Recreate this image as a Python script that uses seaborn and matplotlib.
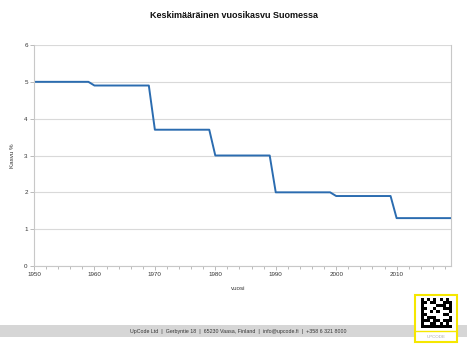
import numpy as np
import pandas as pd
import matplotlib
matplotlib.use("Agg")
import matplotlib.pyplot as plt
import seaborn as sns
from matplotlib.patches import Rectangle
from matplotlib.ticker import MultipleLocator

# Data: average annual growth in Finland, by decade (yearly steps)
years = list(range(1950, 2020))
decade_starts = [1950, 1960, 1970, 1980, 1990, 2000, 2010]
decade_growth = [5.0, 4.9, 3.7, 3.0, 2.0, 1.9, 1.3]
growth = [decade_growth[(y - 1950) // 10] for y in years]
x_ticks = [1950, 1960, 1970, 1980, 1990, 2000, 2010]
y_ticks = [0, 1, 2, 3, 4, 5, 6]

title = "Keskimääräinen vuosikasvu Suomessa"
xlabel = "vuosi"
ylabel = "Kasvu %"
footer = "UpCode Ltd  |  Gerbyntie 18  |  65230 Vaasa, Finland  |  info@upcode.fi  |  +358 6 321 8000"

df = pd.DataFrame({"vuosi": years, "kasvu": growth})

sns.set_style("white")
plt.rcParams['font.family'] = ['Liberation Sans', 'DejaVu Sans']

W, H = 467, 350
fig = plt.figure(figsize=(W / 100, H / 100), dpi=100)
ax = fig.add_axes([34 / W, 1 - 266 / H, (451 - 34) / W, (266 - 45) / H])

sns.lineplot(data=df, x="vuosi", y="kasvu", ax=ax, color="#2b6cb0", linewidth=1.4)

ax.set_xlim(1950, 2019)
ax.set_ylim(0, 6)
ax.set_xticks(x_ticks)
ax.set_xticklabels([str(t) for t in x_ticks])
ax.xaxis.set_minor_locator(MultipleLocator(2))
ax.set_yticks(y_ticks)
ax.grid(axis="y", color="#d9d9d9", linewidth=0.8)
ax.set_axisbelow(True)
for side in ["left", "bottom", "right"]:
    ax.spines[side].set_color("#c8c8c8")
    ax.spines[side].set_linewidth(0.8)
ax.spines["top"].set_visible(False)
ax.tick_params(axis="both", which="major", labelsize=4.5, labelcolor="#333333",
               color="#b0b0b0", length=3, width=0.6, direction="out", pad=1.5,
               bottom=True, left=True)
ax.tick_params(axis="x", which="minor", color="#b0b0b0", length=2, width=0.6,
               direction="out", bottom=True)
ax.set_xlabel("")
ax.set_ylabel("")

fig.text(234 / W, 1 - 16 / H, title, ha="center", va="center", fontsize=6.5,
         fontweight="bold", color="#111111")
fig.text(238 / W, 1 - 289 / H, xlabel, ha="center", va="center", fontsize=4.5, color="#333333")
fig.text(12 / W, 1 - 156 / H, ylabel, ha="center", va="center", fontsize=4.5,
         color="#333333", rotation=90)

# footer band
fig.patches.append(Rectangle((0, 1 - 337 / H), 1, 12 / H, transform=fig.transFigure,
                             facecolor="#d6d6d6", edgecolor="none", zorder=1))
fig.text(238 / W, 1 - 331 / H, footer, ha="center", va="center", fontsize=3.8,
         color="#333333", zorder=2)

# logo (decorative)
lx0, lx1, ly0, ly1 = 415, 457, 295, 342
fig.patches.append(Rectangle((lx0 / W, 1 - ly1 / H), (lx1 - lx0) / W, (ly1 - ly0) / H,
                             transform=fig.transFigure, facecolor="white",
                             edgecolor="#f5e700", linewidth=1.5, zorder=3))
fig.patches.append(Rectangle((lx0 / W, 1 - 331 / H), (lx1 - lx0) / W, 0,
                             transform=fig.transFigure, facecolor="none",
                             edgecolor="#f5e700", linewidth=1.0, zorder=4))
pattern = [
    "1010101010",
    "1101100111",
    "1000011101",
    "1100100111",
    "1001010001",
    "1100000110",
    "1011100001",
    "1110110111",
    "1001101010",
    "1111111111",
]
bax = fig.add_axes([421 / W, 1 - 328 / H, 31 / W, 30 / H], zorder=5)
bax.imshow(np.array([[int(c) for c in r] for r in pattern]), cmap="Greys",
           interpolation="nearest", aspect="auto")
bax.axis("off")
fig.text(436 / W, 1 - 337 / H, "UPCODE", ha="center", va="center", fontsize=3.2,
         color="#aaaaaa", zorder=6)

fig.savefig("out.png", dpi=100, facecolor="white")
